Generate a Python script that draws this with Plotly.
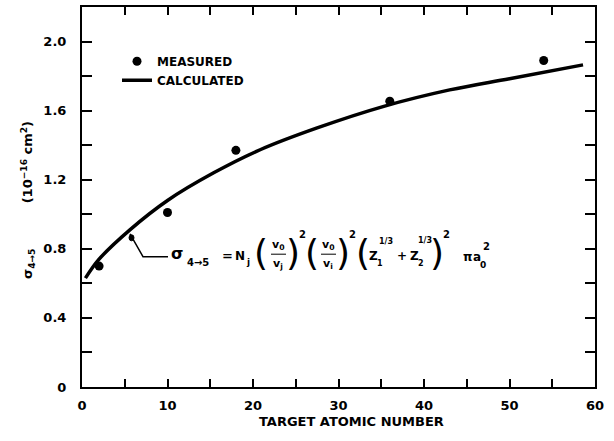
import plotly.graph_objects as go

# ---- data ----
measured_z = [2, 10, 18, 36, 54]
measured_sigma = [0.70, 1.01, 1.37, 1.655, 1.89]

calc_z = [0.4, 2, 5.6, 10, 15.4, 20.9, 27.5, 35.3, 43, 50, 58.6]
calc_sigma = [0.63, 0.74, 0.91, 1.08, 1.24, 1.375, 1.50, 1.625, 1.72, 1.785, 1.865]

x_tickvals = [0, 5, 10, 15, 20, 25, 30, 35, 40, 45, 50, 55, 60]
x_ticktext = ["0", "", "10", "", "20", "", "30", "", "40", "", "50", "", "60"]
y_tickvals = [0, 0.2, 0.4, 0.6, 0.8, 1.0, 1.2, 1.4, 1.6, 1.8, 2.0]
y_ticktext = ["0", "", "0.4", "", "0.8", "", "1.2", "", "1.6", "", "2.0"]

# ---- layout geometry (pixels) ----
W, H = 614, 441
L_PX, R_PX, T_PX, B_PX = 82, 595, 5, 387
X_MAX, Y_MAX = 60, 2.2

def dx(px):
    return (px - L_PX) / (R_PX - L_PX) * X_MAX

def dy(py):
    return (B_PX - py) / (B_PX - T_PX) * Y_MAX

FONT = "DejaVu Sans"
INK = "black"

fig = go.Figure()
fig.add_trace(go.Scatter(
    x=measured_z, y=measured_sigma, mode="markers", name="MEASURED",
    marker=dict(color=INK, size=9),
))
fig.add_trace(go.Scatter(
    x=calc_z, y=calc_sigma, mode="lines", name="CALCULATED",
    line=dict(color=INK, width=3.5, shape="spline"),
))

annotations = []

def ann(text, px, py, size=12, xanchor="center", weight="bold"):
    annotations.append(dict(
        text=text, x=dx(px), y=dy(py), xref="x", yref="y",
        xanchor=xanchor, yanchor="middle", showarrow=False,
        font=dict(family=FONT, size=size, color=INK, weight=weight),
    ))

# formula pieces
ann("σ", 177, 253, size=16)
ann("4→5", 198, 262, size=10)
ann("=", 227, 255, size=13)
ann("N", 240, 255, size=12)
ann("j", 248, 261, size=9)
paren = 36
for px in (261, 312, 363):
    ann("(", px, 252, size=paren, weight="normal")
for px in (293, 343, 437):
    ann(")", px, 252, size=paren, weight="normal")
ann("v<sub>0</sub>", 278, 244, size=11)
ann("v<sub>j</sub>", 278, 263, size=11)
ann("2", 302, 234, size=10)
ann("v<sub>0</sub>", 328, 244, size=11)
ann("v<sub>i</sub>", 328, 263, size=11)
ann("2", 352, 234, size=10)
ann("Z", 373, 255, size=12)
ann("1", 380, 263, size=8)
ann("1/3", 386, 241, size=8)
ann("+", 402, 255, size=12)
ann("Z", 414, 255, size=12)
ann("2", 421, 263, size=8)
ann("1/3", 425, 240, size=8)
ann("2", 446, 234, size=10)
ann("π", 468, 256, size=12)
ann("a", 477, 256, size=12)
ann("0", 483, 264, size=9)
ann("2", 486, 246, size=10)

# axis titles
annotations.append(dict(
    text="TARGET ATOMIC NUMBER", x=(351 - L_PX) / (R_PX - L_PX), y=(B_PX - 422) / (B_PX - T_PX),
    xref="paper", yref="paper", xanchor="center", yanchor="middle", showarrow=False,
    font=dict(family=FONT, size=13, color=INK, weight="bold"),
))
annotations.append(dict(
    text="σ<sub>4→5</sub>          (10<sup>−16</sup> cm<sup>2</sup>)",
    x=(28 - L_PX) / (R_PX - L_PX), y=(B_PX - 199) / (B_PX - T_PX),
    xref="paper", yref="paper", xanchor="center", yanchor="middle", showarrow=False,
    textangle=-90,
    font=dict(family=FONT, size=13, color=INK, weight="bold"),
))

shapes = [
    # leader from formula to curve
    dict(type="path", xref="x", yref="y",
         path=f"M {dx(130)},{dy(233)} L {dx(143)},{dy(256)} L {dx(168)},{dy(256)}",
         line=dict(color=INK, width=1.5)),
    dict(type="circle", xref="x", yref="y",
         x0=dx(129), x1=dx(134), y0=dy(240), y1=dy(234),
         fillcolor=INK, line=dict(color=INK, width=1)),
    # fraction bars
    dict(type="line", xref="x", yref="y", x0=dx(271), x1=dx(286), y0=dy(253.5), y1=dy(253.5),
         line=dict(color=INK, width=1)),
    dict(type="line", xref="x", yref="y", x0=dx(321), x1=dx(336), y0=dy(253.5), y1=dy(253.5),
         line=dict(color=INK, width=1)),
]

fig.update_layout(
    width=W, height=H,
    margin=dict(l=L_PX, r=W - R_PX, t=T_PX, b=H - B_PX),
    paper_bgcolor="white", plot_bgcolor="white",
    font=dict(family=FONT, size=13, color=INK),
    showlegend=True,
    legend=dict(
        x=(117 - L_PX) / (R_PX - L_PX), y=(B_PX - 45) / (B_PX - T_PX),
        xanchor="left", yanchor="top", bgcolor="rgba(0,0,0,0)",
        font=dict(family=FONT, size=12, color=INK, weight="bold"),
        tracegroupgap=0, itemwidth=30,
    ),
    xaxis=dict(
        range=[0, X_MAX], tickvals=x_tickvals, ticktext=x_ticktext,
        ticks="inside", ticklen=8, tickwidth=1.5, tickcolor=INK,
        showline=True, linewidth=2, linecolor=INK, mirror="ticks",
        showgrid=False, zeroline=False, ticklabelstandoff=5,
        tickfont=dict(family=FONT, size=13, color=INK, weight="bold"),
    ),
    yaxis=dict(
        range=[0, Y_MAX], tickvals=y_tickvals, ticktext=y_ticktext,
        ticks="inside", ticklen=10, tickwidth=1.5, tickcolor=INK,
        showline=True, linewidth=2, linecolor=INK, mirror="ticks",
        showgrid=False, zeroline=False, ticklabelstandoff=11,
        tickfont=dict(family=FONT, size=13, color=INK, weight="bold"),
    ),
    annotations=annotations,
    shapes=shapes,
)

fig.write_html("out.html", config={"displayModeBar": False},
               post_script="document.body.style.margin='0';")
